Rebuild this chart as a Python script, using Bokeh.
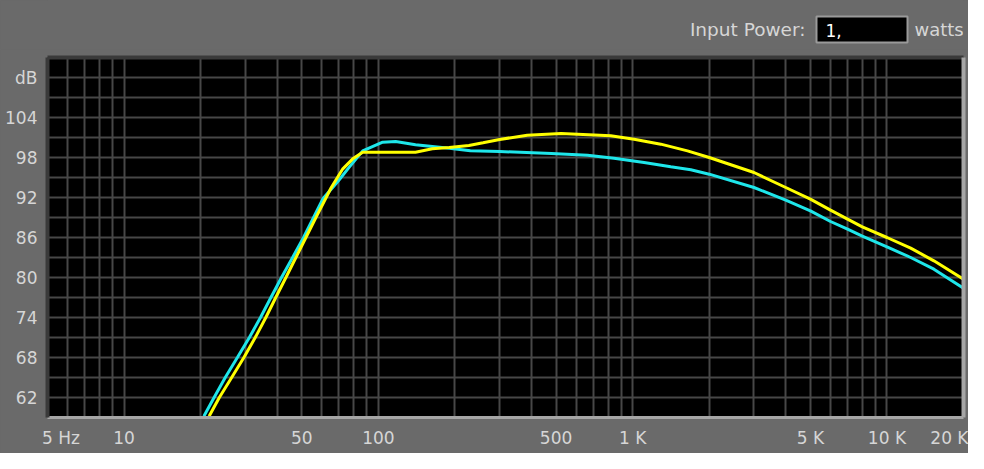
from bokeh.plotting import figure
from bokeh.models import FixedTicker, Range1d, LinearAxis, LogAxis
from bokeh.layouts import column
from bokeh.core.properties import value
from bokeh.embed import file_html
from bokeh.resources import INLINE

# ---- data ----
freq_cyan = [20.6, 22.6, 25.0, 27.9, 31.1, 34.4, 37.8, 41.6, 46, 50.8,
             60.5, 69.3, 77, 86.8, 104, 117, 140, 190, 230, 300,
             480, 664, 845, 1109, 1412, 1693, 2000, 3000, 4000, 5000,
             6000, 7000, 8000, 10000, 12400, 15300, 20000]
db_cyan = [59.2, 62, 65, 68, 71, 74, 77, 80, 83, 86,
           91.8, 94.4, 96.6, 99.0, 100.3, 100.4, 99.9, 99.4, 99.0, 98.9,
           98.6, 98.35, 97.9, 97.25, 96.6, 96.15, 95.5, 93.5, 91.6, 90.0,
           88.4, 87.25, 86.2, 84.6, 83.0, 81.25, 78.4]

freq_yellow = [21.6, 23.7, 26.5, 29.6, 32.8, 36.1, 39.5, 43.3, 47.4, 51.9,
               57, 65.3, 72.5, 79.3, 86.8, 104, 140, 163, 190, 227,
               258, 300, 385, 523, 607, 820, 1013, 1290, 1643, 2000,
               3000, 4000, 5000, 6000, 7000, 8000, 10000, 12400, 15300, 20000]
db_yellow = [59.2, 62, 65, 68, 71, 74, 77, 80, 83, 86,
             89.1, 93.5, 96.3, 97.8, 98.8, 98.8, 98.8, 99.3, 99.5, 99.8,
             100.2, 100.7, 101.35, 101.6, 101.5, 101.25, 100.75, 100.0, 99.0, 98.0,
             95.75, 93.5, 91.75, 90.1, 88.75, 87.6, 86.0, 84.4, 82.5, 79.75]

x_major = [5, 10, 50, 100, 500, 1000, 5000, 10000, 20000]
x_minor = [6, 7, 8, 9, 20, 30, 40, 60, 70, 80, 90, 200, 300, 400, 600, 700, 800, 900,
           2000, 3000, 4000, 6000, 7000, 8000, 9000]
x_tick_text = ["5 Hz", "10", "50", "100", "500", "1 K", "5 K", "10 K", "20 K"]
y_major = [62, 68, 74, 80, 86, 92, 98, 104, 110]
y_minor = [59, 65, 71, 77, 83, 89, 95, 101, 107, 113]
y_tick_text = ["62", "68", "74", "80", "86", "92", "98", "104", "dB"]
power_label = "Input Power:"
power_value = "1,"
power_unit = "watts"

BG = "#6a6a6a"
GRID = "#474747"
TXT = "#d6d6d6"
DARK = "#3a3a3a"
LIGHT = "#a6a6a6"
FONT = "DejaVu Sans"
NB = "\u00a0"

# ---------------- header strip (frame aligned with the chart frame below) ----------------
hdr = figure(width=968, height=49, x_range=Range1d(47, 963), y_range=Range1d(49, 0),
             output_backend="svg", toolbar_location=None,
             x_axis_location=None, y_axis_location=None,
             min_border_left=47, min_border_right=5, min_border_top=0, min_border_bottom=0,
             background_fill_color=BG, border_fill_color=BG, outline_line_color=None)
hdr.xgrid.visible = False
hdr.ygrid.visible = False
hdr.text(x=[805], y=[28.5], text=[power_label], text_align="right", text_baseline="middle",
         text_font=value(FONT), text_font_size="18.5px", text_color=TXT)
hdr.quad(left=[816], right=[907], top=[16], bottom=[42], fill_color="black",
         line_color="#9a9a9a", line_width=2)
hdr.text(x=[825], y=[30], text=[power_value], text_align="left", text_baseline="middle",
         text_font=value(FONT), text_font_size="17px", text_color="white")
hdr.text(x=[914], y=[28.5], text=[power_unit], text_align="left", text_baseline="middle",
         text_font=value(FONT), text_font_size="18px", text_color=TXT)

# ---------------- main chart ----------------
p = figure(width=968, height=404, x_axis_type="log",
           x_range=Range1d(5, 20000), y_range=Range1d(59, 113),
           output_backend="svg", toolbar_location=None,
           min_border_left=47, min_border_right=5, min_border_top=8, min_border_bottom=36,
           background_fill_color="black", border_fill_color=BG, outline_line_color=None)

xt = FixedTicker(ticks=x_major, minor_ticks=x_minor)
yt = FixedTicker(ticks=y_major, minor_ticks=y_minor)
p.xaxis[0].ticker = xt
p.yaxis[0].ticker = yt
p.xgrid[0].ticker = xt
p.ygrid[0].ticker = yt

x_over = dict(zip(x_major, x_tick_text))
# the original keeps its left edge label inside: pad it with no-break spaces
x_over[x_major[0]] = NB * 5 + x_tick_text[0]
p.xaxis[0].major_label_overrides = x_over
p.yaxis[0].major_label_overrides = dict(zip(y_major, y_tick_text))

for g in (p.xgrid[0], p.ygrid[0]):
    g.grid_line_color = GRID
    g.grid_line_width = 2
    g.minor_grid_line_color = GRID
    g.minor_grid_line_width = 2

for ax in (p.xaxis[0], p.yaxis[0]):
    ax.major_tick_line_color = None
    ax.minor_tick_line_color = None
    ax.major_tick_out = 0
    ax.major_tick_in = 0
    ax.minor_tick_out = 0
    ax.minor_tick_in = 0
    ax.major_label_text_font = FONT
    ax.major_label_text_font_size = "17px"
    ax.major_label_text_color = TXT
p.xaxis[0].major_label_standoff = 10
p.yaxis[0].major_label_standoff = 10
# sunken bevel: dark left/top, light bottom/right
p.xaxis[0].axis_line_color = LIGHT
p.xaxis[0].axis_line_width = 3
p.yaxis[0].axis_line_color = DARK
p.yaxis[0].axis_line_width = 4

top_ax = LogAxis(ticker=FixedTicker(ticks=[]), axis_line_color=DARK, axis_line_width=4,
                 major_tick_line_color=None, minor_tick_line_color=None,
                 major_tick_out=0, minor_tick_out=0, major_label_text_font_size="0px")
right_ax = LinearAxis(ticker=FixedTicker(ticks=[]), axis_line_color=LIGHT, axis_line_width=4,
                      major_tick_line_color=None, minor_tick_line_color=None,
                      major_tick_out=0, minor_tick_out=0, major_label_text_font_size="0px")
p.add_layout(top_ax, "above")
p.add_layout(right_ax, "right")

p.line(freq_cyan, db_cyan, line_color="#1ee6ea", line_width=3)
p.line(freq_yellow, db_yellow, line_color="#ffff00", line_width=3)

layout = column(hdr, p, spacing=0, styles={"background-color": BG})
open("out.html", "w").write(file_html(layout, INLINE))
